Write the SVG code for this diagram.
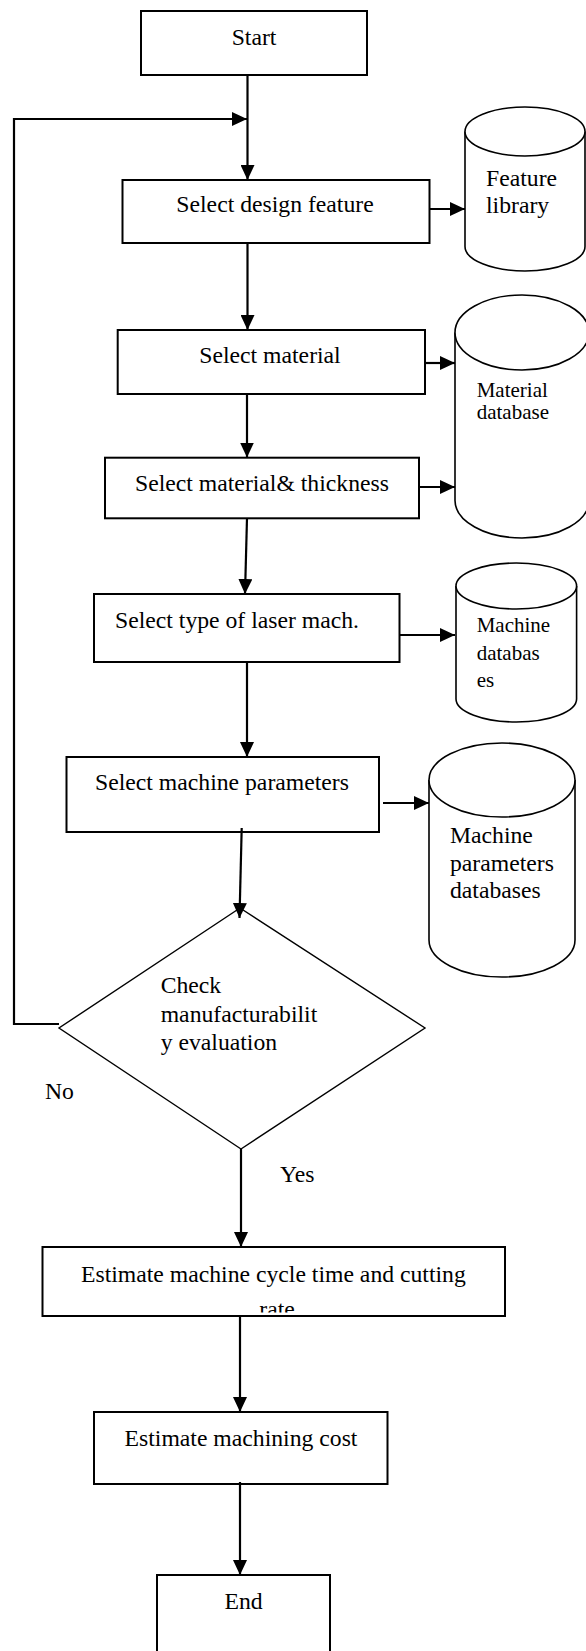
<svg xmlns="http://www.w3.org/2000/svg" width="586" height="1651" viewBox="0 0 586 1651">
  <style>
    .box { fill: #fff; stroke: #000; stroke-width: 2; }
    .dia { fill: #fff; stroke: #000; stroke-width: 1.4; }
    .cyl { fill: #fff; stroke: #000; stroke-width: 1.6; }
    .edge { fill: none; stroke: #000; stroke-width: 2.2; }
    text { font-family: "Liberation Serif", "Times New Roman", serif; font-size: 23.7px; fill: #000; }
    .mid { text-anchor: middle; }
    .small { font-size: 21px; }
  </style>
  <defs>
    <marker id="arrow" markerUnits="userSpaceOnUse" markerWidth="15" markerHeight="14" refX="15" refY="7" orient="auto">
      <path d="M0,0 L15,7 L0,14 z" fill="#000"/>
    </marker>
    <clipPath id="clip-cycle">
      <rect x="42" y="1247" width="463" height="65.5"/>
    </clipPath>
  </defs>
  <rect width="586" height="1651" fill="#fff"/>

  <!-- process steps -->
  <g id="start">
    <rect class="box" x="141" y="11" width="226" height="64"/>
    <text class="mid" x="254" y="45">Start</text>
  </g>
  <g id="select-design-feature">
    <rect class="box" x="122.5" y="180" width="307" height="63"/>
    <text class="mid" x="275" y="212">Select design feature</text>
  </g>
  <g id="select-material">
    <rect class="box" x="117.7" y="330" width="307.3" height="64"/>
    <text class="mid" x="270" y="363">Select material</text>
  </g>
  <g id="select-material-thickness">
    <rect class="box" x="105" y="457.7" width="314" height="60.6"/>
    <text class="mid" x="262" y="490.7">Select material&amp; thickness</text>
  </g>
  <g id="select-laser-type">
    <rect class="box" x="94" y="594" width="305.5" height="68"/>
    <text x="115" y="628">Select type of laser mach.</text>
  </g>
  <g id="select-machine-parameters">
    <rect class="box" x="66.5" y="757" width="312.5" height="75"/>
    <text class="mid" x="222" y="790">Select machine parameters</text>
  </g>
  <g id="check-manufacturability">
    <polygon class="dia" points="240,908 425,1028 241,1149 59,1028"/>
    <text x="160.7" y="993">Check</text>
    <text x="160.7" y="1022">manufacturabilit</text>
    <text x="160.7" y="1050">y evaluation</text>
  </g>
  <g id="estimate-cycle-time">
    <rect class="box" x="42.5" y="1247" width="462.5" height="69"/>
    <text class="mid" x="273.4" y="1281.7">Estimate machine cycle time and cutting</text>
    <text class="mid" x="277" y="1317" clip-path="url(#clip-cycle)">rate</text>
  </g>
  <g id="estimate-cost">
    <rect class="box" x="94" y="1412" width="293.5" height="72"/>
    <text class="mid" x="241" y="1446">Estimate machining cost</text>
  </g>
  <g id="end">
    <path class="box" d="M157,1665 V1575 H330 V1665"/>
    <text class="mid" x="243.5" y="1609">End</text>
  </g>

  <!-- data stores -->
  <g id="feature-library">
    <path class="cyl" d="M465,131.5 V246.5 A60,24.5 0 0 0 585,246.5 V131.5"/>
    <ellipse class="cyl" cx="525" cy="131.5" rx="60" ry="24.5"/>
    <text x="486" y="186">Feature</text>
    <text x="486" y="213">library</text>
  </g>
  <g id="material-database">
    <path class="cyl" d="M455,332.5 V500.5 A67,37.5 0 0 0 589,500.5 V332.5"/>
    <ellipse class="cyl" cx="522" cy="332.5" rx="67" ry="37.5"/>
    <text class="small" x="476.7" y="396.7">Material</text>
    <text class="small" x="476.7" y="419">database</text>
  </g>
  <g id="machine-databases">
    <path class="cyl" d="M456,586 V699 A60.3,23 0 0 0 576.6,699 V586"/>
    <ellipse class="cyl" cx="516.3" cy="586" rx="60.3" ry="23"/>
    <text class="small" x="476.7" y="632">Machine</text>
    <text class="small" x="476.7" y="660">databas</text>
    <text class="small" x="476.7" y="687">es</text>
  </g>
  <g id="machine-parameters-databases">
    <path class="cyl" d="M429,780 V940 A73,37 0 0 0 575,940 V780"/>
    <ellipse class="cyl" cx="502" cy="780" rx="73" ry="37"/>
    <text x="450" y="843">Machine</text>
    <text x="450" y="871">parameters</text>
    <text x="450" y="898">databases</text>
  </g>

  <!-- connectors -->
  <g id="connectors">
    <path class="edge" d="M247.5,75 V180" marker-end="url(#arrow)"/>
    <path class="edge" d="M59,1024 H14 V119 H247" marker-end="url(#arrow)"/>
    <path class="edge" d="M430,209 H465" marker-end="url(#arrow)"/>
    <path class="edge" d="M247.5,243 V330" marker-end="url(#arrow)"/>
    <path class="edge" d="M425,363 H455" marker-end="url(#arrow)"/>
    <path class="edge" d="M247,394 V457.5" marker-end="url(#arrow)"/>
    <path class="edge" d="M419,487 H455" marker-end="url(#arrow)"/>
    <path class="edge" d="M247,518 L245,594" marker-end="url(#arrow)"/>
    <path class="edge" d="M399.5,635 H455" marker-end="url(#arrow)"/>
    <path class="edge" d="M247,662 V757" marker-end="url(#arrow)"/>
    <path class="edge" d="M383,803 H429" marker-end="url(#arrow)"/>
    <path class="edge" d="M241.7,828 L239.5,918" marker-end="url(#arrow)"/>
    <path class="edge" d="M241,1149 V1247" marker-end="url(#arrow)"/>
    <path class="edge" d="M240,1316 V1412" marker-end="url(#arrow)"/>
    <path class="edge" d="M240,1482 V1575" marker-end="url(#arrow)"/>
    <text x="45" y="1099">No</text>
    <text x="280" y="1182">Yes</text>
  </g>
</svg>
